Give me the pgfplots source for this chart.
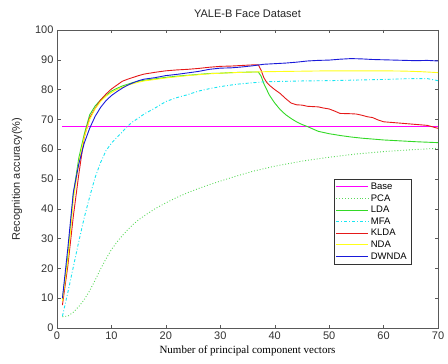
\documentclass[border=0pt]{standalone}
\usepackage{fontspec}
\setmainfont{Liberation Sans}
\newfontfamily\timesfont{Liberation Serif}
\usepackage{pgfplots}
\pgfplotsset{compat=1.18}
\definecolor{cBase}{rgb}{1,0,1}
\definecolor{cPCA}{rgb}{0.35,0.85,0.35}
\definecolor{cLDA}{rgb}{0.2,0.85,0.15}
\definecolor{cMFA}{rgb}{0.1,0.9,0.95}
\definecolor{cKLDA}{rgb}{0.9,0.1,0.1}
\definecolor{cNDA}{rgb}{1,1,0.1}
\definecolor{cDW}{rgb}{0.1,0.1,0.85}
\begin{document}
\begin{tikzpicture}
\begin{axis}[
  scale only axis, width=381pt, height=298pt,
  xmin=0, xmax=70, ymin=0, ymax=100,
  xtick={0,10,...,70}, ytick={0,10,...,100},
  tick align=inside, major tick length=3.5pt,
  /pgf/number format/assume math mode=true,
  ticklabel style={font=\fontsize{11}{12}\selectfont, text=black!80},
  title={YALE-B Face Dataset},
  title style={font=\fontsize{11}{12}\selectfont, text=black!85, yshift=3pt},
  xlabel={\timesfont Number of principal component vectors},
  xlabel style={font=\fontsize{11}{12}\selectfont, yshift=0pt},
  ylabel={Recognition accuracy(\%)},
  ylabel style={font=\fontsize{11}{12}\selectfont, text=black!85, yshift=6pt},
  axis line style={black!65},
  every tick/.style={black!65},
  legend style={at={(0.929,0.5)}, anchor=north east, font=\fontsize{9.5}{11}\selectfont,
    draw=black!80, inner sep=2pt, row sep=-0.5pt},
  legend cell align=left,
  legend image code/.code={\draw[#1, line width=1.1pt] (0pt,0.3pt) -- (32pt,0.3pt);},
]
\addplot[cBase, line width=0.8pt] coordinates {(1,67.5) (70,67.5)};
\addlegendentry{Base}
\addplot[cPCA, line width=0.9pt, dotted] coordinates {
(1,3.8) (2,4.0) (3,5.3) (4,7.2) (5,9.5) (6,12.5) (7,16) (8,19.8) (9,23.2) (10,26.3)
(11,28.8) (12,31) (13,33) (14,34.8) (15,36.3) (16,37.6) (18,40) (20,42) (22,43.8)
(24,45.4) (26,46.8) (28,48.1) (30,49.3) (33,51) (36,52.6) (40,54.3) (45,56) (50,57.3)
(55,58.4) (60,59.2) (65,59.8) (70,60.3)};
\addlegendentry{PCA}
\addplot[cLDA, line width=0.9pt] coordinates {
(1,9.5) (2,24) (3,45) (4,57) (5,65) (6,71.5) (7,74.5) (8,76.5) (9,78) (10,79.5)
(11,80.4) (12,81.2) (13,81.8) (14,82.4) (15,82.8) (16,83.1) (18,83.6) (20,84.1)
(22,84.5) (24,84.8) (26,85.1) (28,85.4) (30,85.5) (32,85.7) (34,85.8) (36,85.9)
(37,85.9) (37.5,84.5) (38,82) (39,78.2) (40,75.5) (41,73.3) (42,71.6) (43,70.3)
(44,69.2) (45,68.3) (46,67.6) (47,66.8) (48,66) (50,65.2) (52,64.6) (54,64.1)
(56,63.7) (58,63.4) (60,63.1) (63,62.8) (66,62.5) (70,62.2)};
\addlegendentry{LDA}
\addplot[cMFA, line width=0.9pt, dash dot] coordinates {
(1,4) (2,12) (3,20.5) (4,29) (5,37) (6,44) (7,50.5) (8,55.5) (9,59.5) (10,62)
(11,64) (12,65.8) (13,67.8) (14,69.3) (15,70.5) (16,71.8) (18,73.8) (20,76)
(22,77.3) (24,78.3) (26,79.5) (28,80.3) (30,81) (33,81.8) (36,82.3) (38,82.6)
(40,82.7) (45,82.9) (50,83) (55,83.2) (60,83.4) (65,83.7) (68,83.7) (70,83)};
\addlegendentry{MFA}
\addplot[cKLDA, line width=0.9pt] coordinates {
(1,7.7) (2,21) (3,37.5) (4,51.5) (5,64) (6,70.5) (7,73.7) (8,76.5) (9,78.5) (10,80.2)
(11,81.5) (12,82.8) (13,83.5) (14,84.1) (15,84.7) (16,85.2) (18,85.8) (20,86.3)
(22,86.6) (24,86.8) (26,87.1) (28,87.5) (30,87.8) (32,87.9) (34,88.1) (36,88.3)
(37,88.3) (37.5,86.5) (38,84) (38.5,82.5) (39,81.5) (40,80) (41,78.7) (42,77)
(43,75.5) (44,74.9) (45,74.8) (46,74.4) (47,74.3) (48,74.2) (49,73.8) (50,73.5)
(51,72.8) (52,72) (54,71.9) (55,71.8) (56,71.4) (57,70.9) (58,70.6) (59,69.8)
(60,69.2) (62,68.9) (64,68.6) (66,68.3) (68,68) (69,67.5) (70,67)};
\addlegendentry{KLDA}
\addplot[cNDA, line width=0.9pt] coordinates {
(1,9) (2,23) (3,43) (4,55.5) (5,64) (6,70) (7,73.5) (8,76) (9,77.8) (10,79)
(11,80) (12,80.8) (13,81.5) (14,82) (15,82.5) (16,82.9) (18,83.4) (20,83.9)
(22,84.3) (24,84.7) (26,85) (28,85.3) (30,85.5) (34,85.8) (38,86) (42,86.1)
(46,86.2) (50,86.3) (55,86.3) (60,86.3) (64,86.2) (67,86) (70,85.7)};
\addlegendentry{NDA}
\addplot[cDW, line width=0.9pt] coordinates {
(1,10) (2,27) (3,45.5) (4,55) (5,62) (6,67) (7,71) (8,74) (9,76.3) (10,78)
(11,79.3) (12,80.5) (13,81.5) (14,82.3) (15,83) (16,83.5) (18,84) (20,84.7)
(22,85.1) (24,85.6) (26,86.1) (28,86.8) (30,87.2) (32,87.3) (34,87.6) (36,88)
(38,88.5) (40,88.7) (42,88.9) (44,89.2) (46,89.6) (48,89.8) (50,89.9) (52,90.2)
(54,90.4) (56,90.3) (58,90.1) (60,90) (62,89.9) (64,89.8) (66,89.7) (68,89.8) (70,89.6)};
\addlegendentry{DWNDA}
\end{axis}
\path ([xshift=-57pt,yshift=-35pt]current axis.south west) rectangle ([xshift=10pt,yshift=30pt]current axis.north east);
\end{tikzpicture}
\end{document}
